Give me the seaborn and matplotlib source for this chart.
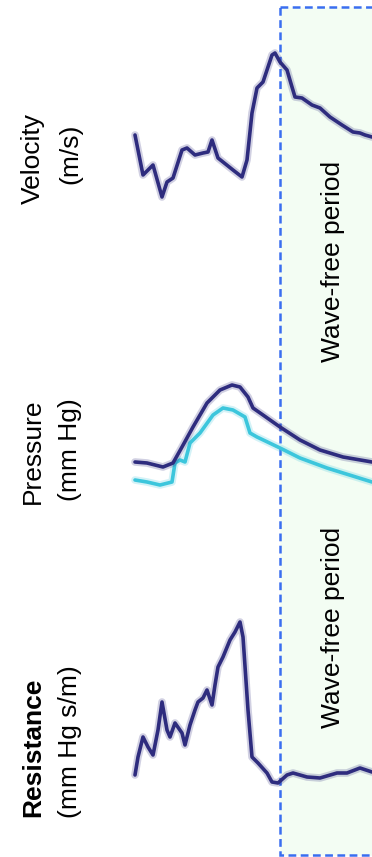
import matplotlib
matplotlib.use("Agg")
import matplotlib.pyplot as plt
from matplotlib.patches import Rectangle
import pandas as pd
import seaborn as sns

# ---- traces (time in ms from start of the recording window) ----
vel_t = [0, 32, 72, 108, 128, 152, 188, 208, 240, 272, 292, 308, 332, 392, 428, 448,
         468, 488, 512, 528, 548, 560, 580, 608, 628, 640, 668, 708, 740, 780, 828,
         872, 900, 920, 948]
vel_v = [0.85, 0.45, 0.55, 0.23, 0.38, 0.42, 0.70, 0.72, 0.65, 0.67, 0.68, 0.80, 0.62,
         0.50, 0.43, 0.60, 1.07, 1.32, 1.38, 1.50, 1.65, 1.67, 1.58, 1.50, 1.33, 1.23,
         1.22, 1.15, 1.12, 1.03, 0.95, 0.88, 0.87, 0.85, 0.83]

pa_t = [0, 48, 112, 152, 188, 232, 288, 340, 388, 420, 452, 472, 512, 580, 660, 740,
        832, 948]
pa_p = [98, 97, 93, 97, 113, 133, 157, 170, 175, 173, 163, 152, 145, 133, 120, 110,
        103, 98]

pd_t = [0, 48, 100, 148, 160, 180, 200, 220, 260, 312, 352, 392, 440, 460, 488, 580,
        660, 768, 948]
pd_p = [80, 78, 75, 78, 97, 100, 98, 117, 127, 145, 152, 150, 143, 127, 123, 112,
        102, 92, 78]

res_t = [0, 12, 32, 52, 72, 92, 108, 128, 140, 160, 188, 200, 220, 240, 252, 272,
         288, 308, 320, 332, 352, 380, 400, 420, 432, 452, 468, 492, 528, 548, 572,
         608, 632, 688, 740, 808, 848, 900, 948]
res_r = [25, 43, 63, 53, 45, 70, 98, 70, 63, 77, 67, 55, 75, 90, 98, 102, 110, 95,
         115, 133, 143, 160, 168, 178, 163, 90, 43, 37, 27, 18, 17, 25, 27, 23, 22,
         27, 27, 32, 28]

wave_free_start = 580

labels = [("Velocity", "(m/s)"), ("Pressure", "(mm Hg)"), ("Resistance", "(mm Hg s/m)")]
band_label = "Wave-free period"

NAVY = "#2e2c7e"
CYAN = "#3cc6dc"
BLUE = "#3a6ef0"
FILL = "#f3fdf3"

sns.set_style("white")
FONT = ["Liberation Sans", "DejaVu Sans"]
plt.rcParams["font.family"] = FONT

W, H = 372, 857
fig = plt.figure(figsize=(W / 100, H / 100), dpi=100)
fig.patch.set_facecolor("white")

XLIM = (-540, 948)

# background layer carrying the wave-free band (y in pixel rows, top = 0)
ax_bg = fig.add_axes([0, 0, 1, 1])
ax_bg.set_xlim(*XLIM)
ax_bg.set_ylim(H, 0)
ax_bg.axis("off")
lw_box = 1.8
ax_bg.add_patch(Rectangle((wave_free_start, 7), 1000, 848, facecolor=FILL,
                          edgecolor=BLUE, linewidth=lw_box,
                          linestyle=(0, (5.6 / lw_box, 3.2 / lw_box))))


def panel(top, bottom, ylim):
    ax = fig.add_axes([0, 1 - bottom / H, 1, (bottom - top) / H])
    ax.set_xlim(*XLIM)
    ax.set_ylim(*ylim)
    ax.patch.set_alpha(0)
    ax.axis("off")
    return ax


def trace(ax, t, y, color):
    df = pd.DataFrame({"t": t, "y": y})
    sns.lineplot(data=df, x="t", y="y", ax=ax, color=color, lw=5.5, alpha=0.22,
                 estimator=None, sort=False, legend=False)
    sns.lineplot(data=df, x="t", y="y", ax=ax, color=color, lw=2.6,
                 estimator=None, sort=False, legend=False,
                 solid_joinstyle="round", solid_capstyle="round")


ax_v = panel(0, 285, (-0.65, 2.2))
trace(ax_v, vel_t, vel_v, NAVY)

ax_p = panel(285, 570, (-10, 275))
trace(ax_p, pd_t, pd_p, CYAN)
trace(ax_p, pa_t, pa_p, NAVY)

ax_r = panel(570, 857, (-57, 230))
trace(ax_r, res_t, res_r, NAVY)

FS = 19


def vtext(x, y, s, **kw):
    fig.text(x / W, 1 - y / H, s, rotation=90, rotation_mode="anchor",
             ha="center", va="baseline", fontsize=FS, family=FONT,
             color="black", **kw)


centers = [(159, 154), (451, 450), (747, 742)]
for (l1, l2), (c1, c2), bold in zip(labels, centers, [False, False, True]):
    vtext(40, c1, l1, fontweight="bold" if bold else "normal")
    vtext(77, c2, l2)

vtext(340, 261, band_label)
vtext(340, 627, band_label)

fig.savefig("out.png", dpi=100, facecolor="white")
